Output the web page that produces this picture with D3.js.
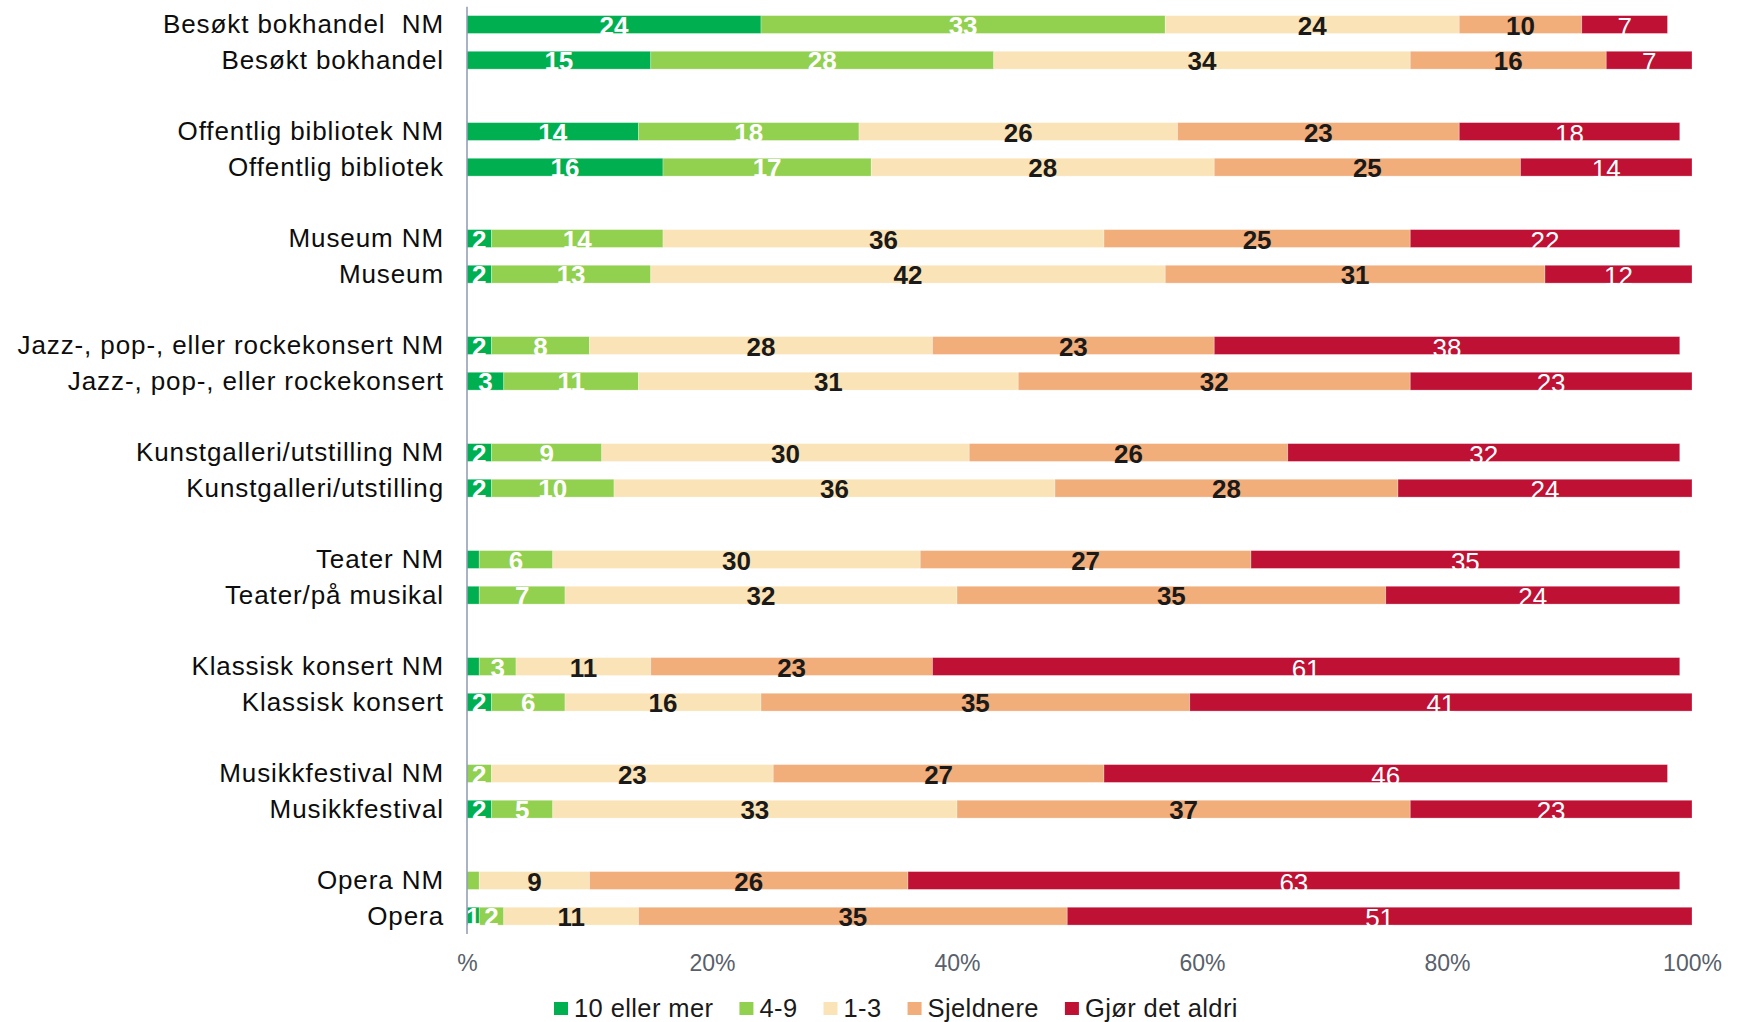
<!DOCTYPE html>
<html>
<head>
<meta charset="utf-8">
<script src="https://cdn.jsdelivr.net/npm/d3@7"></script>
<style>
  body { margin: 0; background: #fff; }
  text { font-family: "Liberation Sans", Arial, sans-serif; }
</style>
</head>
<body>
<script>
const width = 1749;
const height = 1022;

const categories = [
    "Besøkt bokhandel  NM", "Besøkt bokhandel",
    "Offentlig bibliotek NM", "Offentlig bibliotek",
    "Museum NM", "Museum",
    "Jazz-, pop-, eller rockekonsert NM", "Jazz-, pop-, eller rockekonsert",
    "Kunstgalleri/utstilling NM", "Kunstgalleri/utstilling",
    "Teater NM", "Teater/på musikal",
    "Klassisk konsert NM", "Klassisk konsert",
    "Musikkfestival NM", "Musikkfestival",
    "Opera NM", "Opera"
];

const seriesNames = ["10 eller mer", "4-9", "1-3", "Sjeldnere", "Gjør det aldri"];
const seriesColors = ["#00b050", "#92d050", "#fae4b7", "#f1ad7a", "#be1134"];

const tiMer    = [24, 15, 14, 16, 2, 2, 2, 3, 2, 2, 1, 1, 1, 2, 0, 2, 0, 1];
const fireNi   = [33, 28, 18, 17, 14, 13, 8, 11, 9, 10, 6, 7, 3, 6, 2, 5, 1, 2];
const enTre    = [24, 34, 26, 28, 36, 42, 28, 31, 30, 36, 30, 32, 11, 16, 23, 33, 9, 11];
const sjeldnere = [10, 16, 23, 25, 25, 31, 23, 32, 26, 28, 27, 35, 23, 35, 27, 37, 26, 35];
const aldri    = [7, 7, 18, 14, 22, 12, 38, 23, 32, 24, 35, 24, 61, 41, 46, 23, 63, 51];

// segments whose label was removed in the original: [row, series]
const hiddenLabels = [[10, 0], [11, 0], [12, 0], [16, 1]];

const tickValues = [0, 20, 40, 60, 80, 100];
const tickLabels = ["%", "20%", "40%", "60%", "80%", "100%"];

// rows come in pairs, with one empty slot between pairs
const slot = i => i + Math.floor(i / 2);
const nSlots = slot(categories.length - 1) + 1;

const rows = categories.map((c, i) => ({
    name: c, i: i,
    s0: tiMer[i], s1: fireNi[i], s2: enTre[i], s3: sjeldnere[i], s4: aldri[i]
}));
const stacked = d3.stack().keys(["s0", "s1", "s2", "s3", "s4"])(rows);

const x = d3.scaleLinear().domain([0, 100]).range([467, 1692]);
const y = d3.scaleBand()
    .domain(d3.range(nSlots))
    .range([6.7, 934])
    .paddingInner(0.5)
    .paddingOuter(0.25);

const svg = d3.select("body")
    .append("svg")
    .attr("width", width)
    .attr("height", height);

// bars
const layer = svg.append("g")
    .selectAll("g")
    .data(stacked)
    .enter()
    .append("g")
    .attr("fill", (d, k) => seriesColors[k]);

layer.selectAll("rect")
    .data(d => d)
    .enter()
    .append("rect")
    .attr("x", d => x(d[0]))
    .attr("y", d => y(slot(d.data.i)))
    .attr("width", d => x(d[1]) - x(d[0]))
    .attr("height", y.bandwidth())
    .attr("stroke", "#fff")
    .attr("stroke-opacity", 0.35)
    .attr("stroke-width", 0.8);

// data labels
const isHidden = (r, k) => hiddenLabels.some(h => h[0] == r && h[1] == k);

stacked.forEach(function(ser, k) {
    svg.append("g")
        .selectAll("text")
        .data(ser.filter(d => d[1] - d[0] > 0 && !isHidden(d.data.i, k)))
        .enter()
        .append("text")
        .attr("x", d => (x(d[0]) + x(d[1])) / 2)
        .attr("y", d => y(slot(d.data.i)) + y.bandwidth() / 2 + (k == 4 ? 11 : 10))
        .attr("text-anchor", "middle")
        .style("font-size", "26px")
        .style("font-weight", k == 4 ? "normal" : "bold")
        .attr("fill", k == 2 || k == 3 ? "#1a1a1a" : "#fff")
        .text(d => d[1] - d[0]);
});

// category axis line
svg.append("line")
    .attr("x1", x(0)).attr("x2", x(0))
    .attr("y1", 6.7).attr("y2", 934)
    .attr("stroke", "#8d9ab0")
    .attr("stroke-width", 1.5);

// category labels
svg.append("g")
    .selectAll("text")
    .data(categories)
    .enter()
    .append("text")
    .attr("x", 444)
    .attr("y", (d, i) => y(slot(i)) + y.bandwidth() / 2)
    .attr("dy", "0.33em")
    .attr("text-anchor", "end")
    .style("font-size", "26px")
    .style("letter-spacing", "0.9px")
    .style("white-space", "pre")
    .attr("fill", "#0d0d0d")
    .text(d => d);

// value axis
const xAxis = svg.append("g")
    .attr("transform", "translate(0,946)")
    .call(d3.axisBottom(x)
        .tickValues(tickValues)
        .tickSize(0)
        .tickFormat((d, i) => tickLabels[i]));
xAxis.select(".domain").remove();
xAxis.selectAll("text")
    .attr("y", 0)
    .attr("dy", "1.09em")
    .style("font-size", "23px")
    .style("font-family", "'Liberation Sans', Arial, sans-serif")
    .attr("fill", "#58606a");

// legend
const legend = svg.append("g");
let lx = 554;
seriesNames.forEach(function(name, k) {
    legend.append("rect")
        .attr("x", lx).attr("y", 1002)
        .attr("width", 14).attr("height", 13)
        .attr("fill", seriesColors[k]);
    const t = legend.append("text")
        .attr("x", lx + 20)
        .attr("y", 1016.5)
        .style("font-size", "25.5px")
        .style("letter-spacing", "0.4px")
        .attr("fill", "#1a1a1a")
        .text(name);
    lx += 20 + t.node().getComputedTextLength() + 26;
});
</script>
</body>
</html>
